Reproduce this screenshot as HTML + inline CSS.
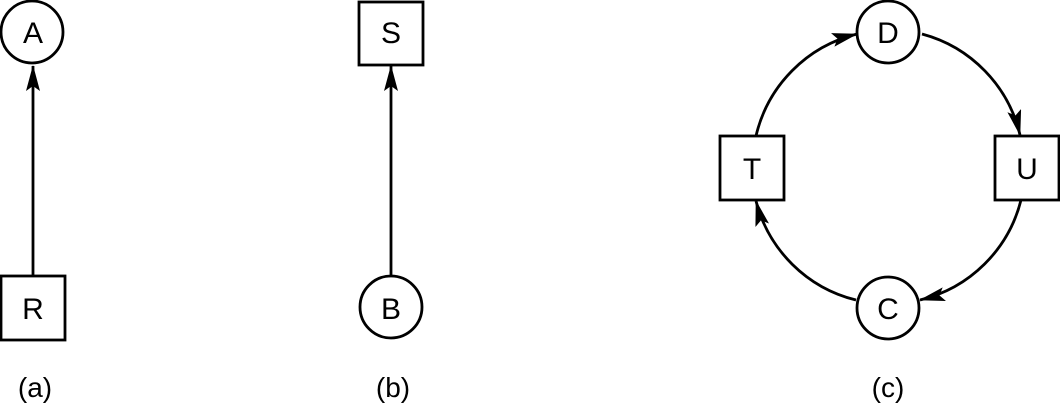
<!DOCTYPE html>
<html><head><style>body{margin:0;background:#fff}svg{display:block}
.t{font-family:"Liberation Sans",sans-serif;font-size:30px;fill:#000;text-anchor:middle}
.l{font-size:28px}</style></head><body>
<svg width="1060" height="410" viewBox="0 0 1060 410" xmlns="http://www.w3.org/2000/svg">
<defs><marker id="ar" markerWidth="26" markerHeight="14" refX="25" refY="7" orient="auto" markerUnits="userSpaceOnUse" viewBox="0 0 26 14"><path d="M0,0 L26,7 L0,14 L5,7 Z" fill="#000"/></marker></defs>
<g fill="none" stroke="#000" stroke-width="2.8">
<circle cx="32" cy="32" r="31"/>
<rect x="1" y="276" width="64" height="64"/>
<line x1="33" y1="276" x2="33" y2="66" marker-end="url(#ar)"/>
<rect x="359" y="2" width="64" height="63"/>
<circle cx="391" cy="307" r="31"/>
<line x1="391" y1="276" x2="391" y2="66" marker-end="url(#ar)"/>
<circle cx="888" cy="32" r="31"/>
<circle cx="888" cy="308" r="31"/>
<rect x="720" y="136" width="64" height="64"/>
<rect x="995" y="136" width="64" height="64"/>
<path d="M756,136 A137,137 0 0 1 857,34" marker-end="url(#ar)"/>
<path d="M922,34 A137,137 0 0 1 1020,135" marker-end="url(#ar)"/>
<path d="M1021,200 A137,137 0 0 1 920,300" marker-end="url(#ar)"/>
<path d="M856,300 A137,137 0 0 1 756,201" marker-end="url(#ar)"/>
</g>
<text class="t" x="33" y="43">A</text><text class="t" x="33" y="319">R</text>
<text class="t" x="391" y="43">S</text><text class="t" x="391" y="319">B</text>
<text class="t" x="888" y="43">D</text><text class="t" x="888" y="319">C</text>
<text class="t" x="752" y="179">T</text><text class="t" x="1027" y="179">U</text>
<text class="t l" x="35" y="397">(a)</text><text class="t l" x="393" y="397">(b)</text><text class="t l" x="888" y="397">(c)</text>
</svg>
</body></html>
